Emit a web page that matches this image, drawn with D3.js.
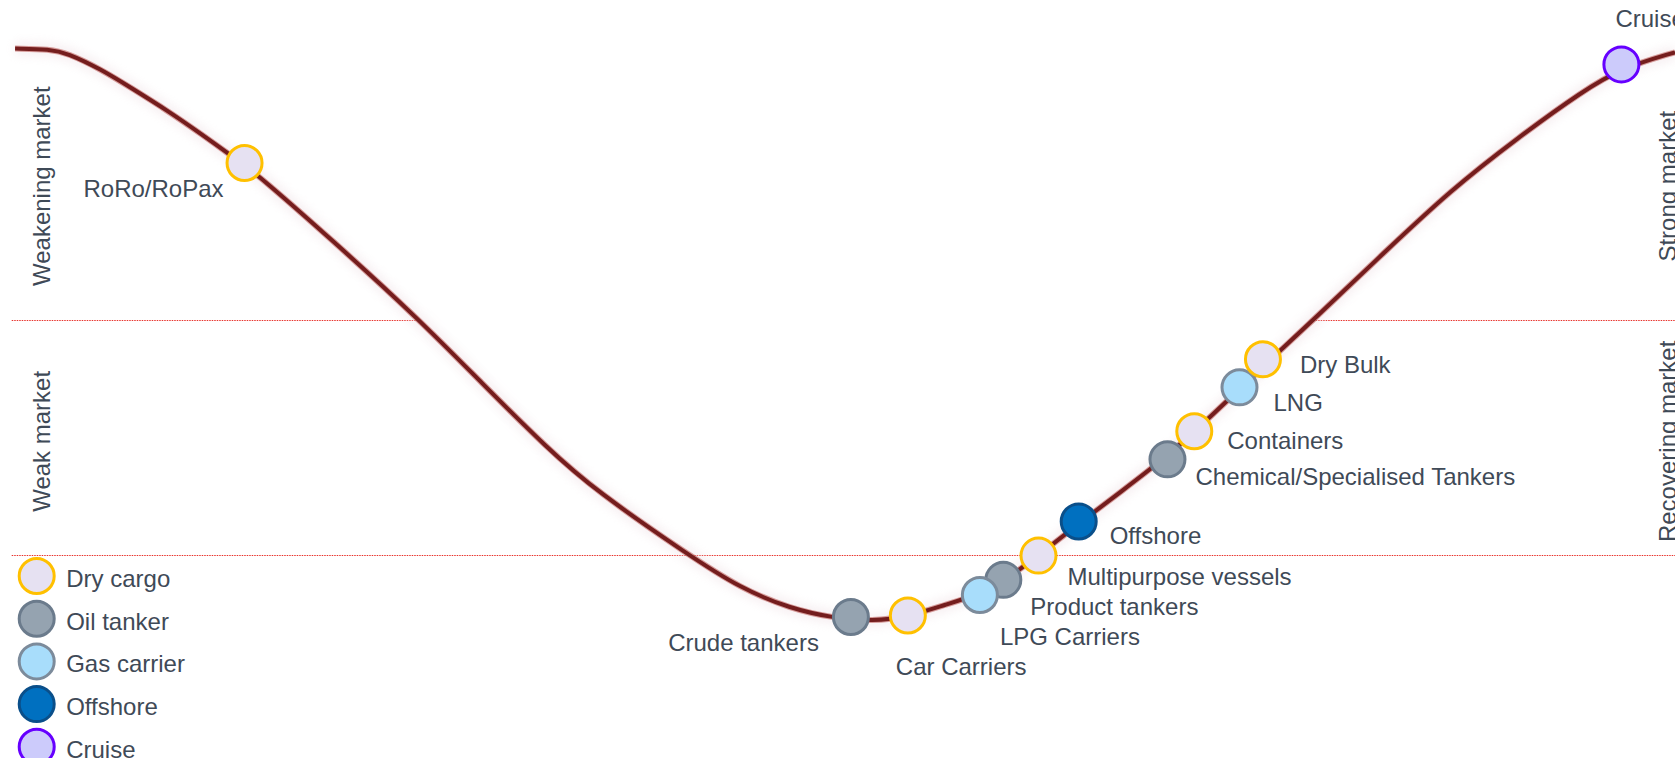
<!DOCTYPE html>
<html lang="en">
<head>
<meta charset="UTF-8">
<script src="https://d3js.org/d3.v7.min.js"></script>
<title>Shipping market cycle</title>
<style>
  body { margin: 0; background: #fff; }
  svg { display: block; font-family: "Liberation Sans", Arial, sans-serif; }
</style>
</head>
<body>
<div id="chart"></div>
<script>
// ---- data ----
// market cycle curve: position in cycle (0-100) / market level (0-100)
const cyclePhase = [0.9, 3.0, 4.0, 6.0, 7.9, 10.0, 11.9, 14.6, 15.5, 19.7, 25.1, 28.7, 32.7, 35.6, 41.1, 44.2,
  47.2, 49.7, 52.1, 54.3, 56.4, 58.5, 60.3, 62.1, 64.5, 66.9, 69.7, 72.4, 74.6, 76.4, 78.4, 82.6, 86.6, 90.6,
  94.5, 96.8, 100];
const cycleLevel = [93.6, 93.5, 93.0, 90.9, 88.3, 85.4, 82.5, 78.2, 76.7, 68.6, 57.7, 49.6, 40.8, 35.2, 26.8, 22.4,
  19.7, 18.5, 18.0, 18.7, 20.2, 21.6, 23.9, 26.9, 31.1, 35.1, 39.8, 45.3, 49.9, 53.7, 57.8, 66.6, 74.9, 81.8,
  88.0, 91.0, 93.1];

// market state boundaries
const thresholds = [57.8, 26.8];
const leftZones = ["Weakening market", "Weak market"];
const rightZones = ["Strong market", "Recovering market"];

// segments (legend)
const segments = ["Dry cargo", "Oil tanker", "Gas carrier", "Offshore", "Cruise"];

// vessel types, in drawing order
const vessels = ["Crude tankers", "Car Carriers", "Product tankers", "LPG Carriers", "Multipurpose vessels",
  "Offshore", "Chemical/Specialised Tankers", "Containers", "LNG", "Dry Bulk", "RoRo/RoPax", "Cruise"];
const vesselSegment = ["Oil tanker", "Dry cargo", "Oil tanker", "Gas carrier", "Dry cargo",
  "Offshore", "Oil tanker", "Dry cargo", "Gas carrier", "Dry cargo", "Dry cargo", "Cruise"];
const vesselPhase = [50.8, 54.2, 59.9, 58.5, 62.0, 64.4, 69.7, 71.3, 74.0, 75.4, 14.6, 96.8];
const vesselLevel = [18.6, 18.8, 23.5, 21.5, 26.7, 31.2, 39.4, 43.1, 48.9, 52.6, 78.5, 91.5];

// ---- layout / style ----
const width = 1675;
const height = 758;
const textColor = "#3f4a57";
const fontSize = 24;
const r = 17.5;

const fills = {
  "Dry cargo": "#e6e1f2", "Oil tanker": "#95a3b0", "Gas carrier": "#a8ddfb",
  "Offshore": "#0070c0", "Cruise": "#cccbfb"
};
const strokes = {
  "Dry cargo": "#ffc000", "Oil tanker": "#6b7b8c", "Gas carrier": "#7c8b9b",
  "Offshore": "#0a4f8a", "Cruise": "#6600ff"
};
// label placement relative to each marker [dx, dy, anchor]
const labelPos = {
  "Crude tankers": [-32, 34, "end"],
  "Car Carriers": [-12, 60, "start"],
  "Product tankers": [27, 35, "start"],
  "LPG Carriers": [20, 50, "start"],
  "Multipurpose vessels": [29, 29, "start"],
  "Offshore": [31, 22, "start"],
  "Chemical/Specialised Tankers": [28, 26, "start"],
  "Containers": [33, 18, "start"],
  "LNG": [34, 24, "start"],
  "Dry Bulk": [37, 14, "start"],
  "RoRo/RoPax": [-21, 34, "end"],
  "Cruise": [-6, -37, "start"]
};

const xScale = d3.scaleLinear().domain([0, 100]).range([0, width]);
const yScale = d3.scaleLinear().domain([0, 100]).range([height, 0]);

const svg = d3.select("#chart").append("svg")
  .attr("width", width)
  .attr("height", height);

const defs = svg.append("defs");
defs.append("filter").attr("id", "glow")
  .attr("x", "-5%").attr("y", "-5%").attr("width", "110%").attr("height", "110%")
  .append("feGaussianBlur").attr("stdDeviation", 5);

const curvePts = cyclePhase.map((p, i) => [p, cycleLevel[i]]);

// where the curve crosses a level
function crossings(level) {
  const out = [];
  for (let i = 1; i < curvePts.length; i++) {
    const [x0, y0] = curvePts[i - 1];
    const [x1, y1] = curvePts[i];
    if ((y0 - level) * (y1 - level) <= 0 && y0 !== y1) {
      const xc = x0 + (level - y0) / (y1 - y0) * (x1 - x0);
      if (!out.length || Math.abs(out[out.length - 1] - xc) > 1) out.push(xc);
    }
  }
  return out;
}

//-threshold lines (upper one stops at the curve)
const startX = 0.7;
const upperCross = crossings(thresholds[0]);
const lineSegs = [
  [startX, upperCross[0], thresholds[0]],
  [upperCross[upperCross.length - 1], 100, thresholds[0]],
  [startX, 100, thresholds[1]]
];
svg.selectAll("line.threshold")
  .data(lineSegs)
  .enter()
  .append("line")
  .attr("class", "threshold")
  .attr("x1", d => xScale(d[0]))
  .attr("x2", d => xScale(d[1]))
  .attr("y1", d => Math.round(yScale(d[2])) + 0.5)
  .attr("y2", d => Math.round(yScale(d[2])) + 0.5)
  .attr("stroke", "#e8322c")
  .attr("stroke-width", 1)
  .attr("stroke-dasharray", "1.5,1");

//-curve
const line = d3.line()
  .x(d => xScale(d[0]))
  .y(d => yScale(d[1]))
  .curve(d3.curveBasis);

svg.append("path")
  .attr("d", line(curvePts))
  .attr("fill", "none")
  .attr("stroke", "#e9d6dc")
  .attr("stroke-width", 14)
  .attr("opacity", 0.35)
  .attr("filter", "url(#glow)");
svg.append("path")
  .attr("d", line(curvePts))
  .attr("fill", "none")
  .attr("stroke", "#b9524f")
  .attr("stroke-width", 6)
  .attr("opacity", 0.55);
svg.append("path")
  .attr("d", line(curvePts))
  .attr("fill", "none")
  .attr("stroke", "#741d1d")
  .attr("stroke-width", 4);

//-zone labels
const zoneMids = [(yScale(cycleLevel[0]) + yScale(thresholds[0])) / 2 + 2,
  (yScale(thresholds[0]) + yScale(thresholds[1])) / 2 + 4];
leftZones.forEach((t, i) => {
  svg.append("text")
    .attr("transform", `translate(50,${zoneMids[i]}) rotate(-90)`)
    .attr("text-anchor", "middle")
    .attr("font-size", fontSize)
    .attr("fill", textColor)
    .text(t);
});
rightZones.forEach((t, i) => {
  svg.append("text")
    .attr("transform", `translate(1676,${zoneMids[i]}) rotate(-90)`)
    .attr("text-anchor", "middle")
    .attr("font-size", fontSize)
    .attr("fill", textColor)
    .text(t);
});

//-markers
const marks = vessels.map((v, i) => ({
  name: v, seg: vesselSegment[i], x: vesselPhase[i], y: vesselLevel[i]
}));

svg.selectAll("circle.vessel")
  .data(marks)
  .enter()
  .append("circle")
  .attr("class", "vessel")
  .attr("cx", d => xScale(d.x))
  .attr("cy", d => yScale(d.y))
  .attr("r", r)
  .attr("fill", d => fills[d.seg])
  .attr("stroke", d => strokes[d.seg])
  .attr("stroke-width", 3);

svg.selectAll("text.vessel")
  .data(marks)
  .enter()
  .append("text")
  .attr("class", "vessel")
  .attr("x", d => xScale(d.x) + labelPos[d.name][0])
  .attr("y", d => yScale(d.y) + labelPos[d.name][1])
  .attr("text-anchor", d => labelPos[d.name][2])
  .attr("font-size", fontSize)
  .attr("fill", textColor)
  .text(d => d.name);

//-legend
const legend = svg.append("g").attr("transform", "translate(36.7,576)");
const item = legend.selectAll("g")
  .data(segments)
  .enter()
  .append("g")
  .attr("transform", (d, i) => `translate(0,${i * 42.7})`);
item.append("circle")
  .attr("r", r)
  .attr("fill", d => fills[d])
  .attr("stroke", d => strokes[d])
  .attr("stroke-width", 3);
item.append("text")
  .attr("x", 29.5)
  .attr("y", 11)
  .attr("font-size", fontSize)
  .attr("fill", textColor)
  .text(d => d);
</script>
</body>
</html>
